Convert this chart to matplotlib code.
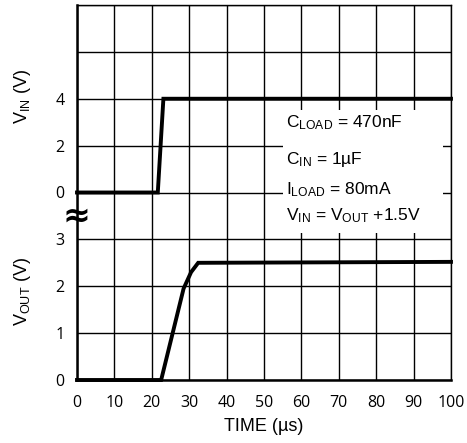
import matplotlib
matplotlib.use("Agg")
import matplotlib.pyplot as plt
from matplotlib.patches import Rectangle
import matplotlib.transforms as mtransforms

plt.rcParams['mathtext.fontset'] = 'custom'
plt.rcParams['mathtext.rm'] = 'Liberation Sans'
plt.rcParams['mathtext.it'] = 'Liberation Sans'

# values
t_vin = [0, 21.6, 23.1, 100]
vin = [0, 0, 4, 4]
t_vout = [0, 22.5, 28.5, 30.5, 32.4, 100]
vout = [0, 0, 1.95, 2.3, 2.5, 2.52]

x_ticks = [0, 10, 20, 30, 40, 50, 60, 70, 80, 90, 100]
vout_ticks = [0, 1, 2, 3]
vin_ticks = [0, 2, 4]

notes = [r"$\mathregular{C_{LOAD}}$ = 470nF",
         r"$\mathregular{C_{IN}}$ = 1µF",
         r"$\mathregular{I_{LOAD}}$ = 80mA",
         r"$\mathregular{V_{IN}}$ = $\mathregular{V_{OUT}}$ +1.5V"]

# VIN sits on rows 4..8 of the shared grid, 2 V per row
def vin_row(v):
    return 4 + v / 2.0

fig = plt.figure(figsize=(4.67, 4.43), dpi=100)
ax = fig.add_axes([77/467, 1 - 380/443, 374/467, 375/443])

ax.set_xlim(0, 100)
ax.set_ylim(0, 8)
ax.set_xticks(x_ticks)
ax.set_xticklabels([str(x) for x in x_ticks], fontfamily='Open Sans', fontsize=11.5)
yt = vout_ticks + [vin_row(v) for v in vin_ticks] + [7, 8]
yl = [str(v) for v in vout_ticks] + [str(v) for v in vin_ticks] + ['', '']
ax.set_yticks(yt)
ax.set_yticklabels(yl, fontfamily='Open Sans', fontsize=11.5)
ax.tick_params(axis='both', length=0)
ax.tick_params(axis='x', pad=11)
ax.tick_params(axis='y', pad=9)
ax.grid(True, color='black', linewidth=1.0, zorder=1)
ax.set_axisbelow(True)
for s in ['left', 'bottom']:
    ax.spines[s].set_linewidth(1.8)
for s in ['top', 'right']:
    ax.spines[s].set_linewidth(1.0)

# white box behind the conditions text
ax.add_patch(Rectangle((55.1, 3.13), 42.8, 2.63, facecolor='white',
                       edgecolor='none', zorder=2))

ax.plot(t_vin, [vin_row(v) for v in vin], color='black', lw=2.8,
        zorder=4, solid_joinstyle='miter', clip_on=False)
ax.plot(t_vout, vout, color='black', lw=2.8, zorder=4,
        solid_joinstyle='miter', clip_on=False)

rows = [5.48, 4.71, 4.07, 3.5]
for txt, r in zip(notes, rows):
    ax.text(55.8, r, txt, fontfamily='Liberation Sans', fontsize=12.5,
            va='center', ha='left', zorder=3)

# axis break mark
ax.text(0, 3.5, "≈", fontsize=24, ha='center', va='center',
        fontfamily='DejaVu Sans', fontweight='bold', zorder=5, clip_on=False)

trans = mtransforms.blended_transform_factory(ax.transAxes, ax.transData)
ax.text(-0.147, 6.06, r"$\mathregular{V_{IN}}$ (V)", transform=trans,
        rotation=90, ha='center', va='center', fontfamily='Liberation Sans',
        fontsize=13)
ax.text(-0.147, 1.9, r"$\mathregular{V_{OUT}}$ (V)", transform=trans,
        rotation=90, ha='center', va='center', fontfamily='Liberation Sans',
        fontsize=13)

ax.set_xlabel("TIME (µs)", fontfamily='Liberation Sans', fontsize=13,
              labelpad=5)

fig.savefig("out.png", dpi=100)
